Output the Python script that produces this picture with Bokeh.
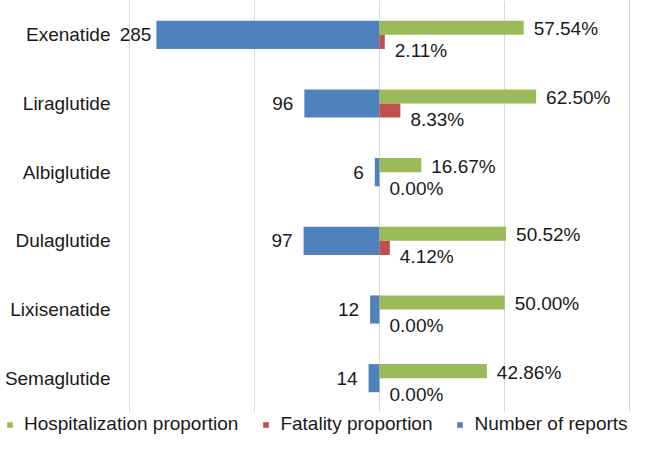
from bokeh.plotting import figure
from bokeh.layouts import column
from bokeh.models import ColumnDataSource, FactorRange, Range1d, FixedTicker, Legend, LegendItem
from bokeh.transform import dodge
from bokeh.core.properties import value
from bokeh.embed import file_html
from bokeh.resources import INLINE

drugs = ["Exenatide", "Liraglutide", "Albiglutide", "Dulaglutide", "Lixisenatide", "Semaglutide"]
reports = [285, 96, 6, 97, 12, 14]
hosp_pct = [57.54, 62.50, 16.67, 50.52, 50.00, 42.86]
fatal_pct = [2.11, 8.33, 0.00, 4.12, 0.00, 0.00]
legend_labels = ["Hospitalization proportion", "Fatality proportion", "Number of reports"]

REPORT_AXIS_MAX = 320.0  # left half of axis spans 0..320 reports, right half 0..100%

FONT = "Liberation Sans"
FS = "19px"
TXT = "#1a1a1a"
BLUE = "#4F81BD"
GREEN = "#9BBB59"
RED = "#C0504D"

src = ColumnDataSource(dict(
    drug=drugs,
    rep_x=[-r / REPORT_AXIS_MAX for r in reports],
    hosp_x=[h / 100.0 for h in hosp_pct],
    fatal_x=[f / 100.0 for f in fatal_pct],
    rep_lbl=[str(r) for r in reports],
    hosp_lbl=["%.2f%%" % h for h in hosp_pct],
    fatal_lbl=["%.2f%%" % f for f in fatal_pct],
    rep_off=[-5 if r > 250 else -11 for r in reports],
))

p = figure(width=631, height=412, output_backend="svg", toolbar_location=None,
           y_range=FactorRange(factors=list(reversed(drugs)), range_padding=0),
           x_range=Range1d(-1.054, 1.002),
           min_border_left=115, min_border_right=1, min_border_top=0, min_border_bottom=0)
p.frame_align = False
p.outline_line_color = None
p.background_fill_color = "white"
p.border_fill_color = "white"

p.xaxis.visible = False
p.xgrid.ticker = FixedTicker(ticks=[-1.0, -0.5, 0.0, 0.5, 1.0])
p.xgrid.grid_line_color = "#d9d9d9"
p.xgrid.grid_line_width = 1
p.ygrid.grid_line_color = None

p.yaxis.axis_line_color = None
p.yaxis.major_tick_line_color = None
p.yaxis.major_tick_in = 0
p.yaxis.major_tick_out = 0
p.yaxis.major_label_standoff = 5
p.yaxis.major_label_text_font = FONT
p.yaxis.major_label_text_font_size = FS
p.yaxis.major_label_text_color = TXT

p.hbar(y="drug", left="rep_x", right=0, height=0.41, source=src,
       fill_color=BLUE, line_color=None)
p.hbar(y=dodge("drug", 0.1025, range=p.y_range), left=0, right="hosp_x", height=0.205,
       source=src, fill_color=GREEN, line_color=None)
p.hbar(y=dodge("drug", -0.1025, range=p.y_range), left=0, right="fatal_x", height=0.205,
       source=src, fill_color=RED, line_color=None)

p.text(x="rep_x", y="drug", text="rep_lbl", source=src, x_offset="rep_off",
       text_align="right", text_baseline="middle", text_font=value(FONT),
       text_font_size=FS, text_color=TXT)
p.text(x="hosp_x", y=dodge("drug", 0.1025, range=p.y_range), text="hosp_lbl", source=src,
       x_offset=10, y_offset=1, text_align="left", text_baseline="middle",
       text_font=value(FONT), text_font_size=FS, text_color=TXT)
p.text(x="fatal_x", y=dodge("drug", -0.1025, range=p.y_range), text="fatal_lbl", source=src,
       x_offset=10, y_offset=9, text_align="left", text_baseline="middle",
       text_font=value(FONT), text_font_size=FS, text_color=TXT)

# legend strip
pl = figure(width=631, height=25, output_backend="svg", toolbar_location=None,
            x_range=Range1d(0, 1), y_range=Range1d(0, 1),
            x_axis_location=None, y_axis_location=None,
            min_border_left=0, min_border_right=0, min_border_top=0, min_border_bottom=0)
pl.frame_align = False
pl.outline_line_color = None
pl.grid.visible = False
lg_rs = []
for col in [GREEN, RED, BLUE]:
    lg_rs.append(pl.hbar(y=[-5], left=[0], right=[0.1], height=0.5,
                         fill_color=col, line_color=None))
legend = Legend(items=[LegendItem(label=lab, renderers=[r]) for lab, r in zip(legend_labels, lg_rs)],
                orientation="horizontal", location=(6, 2))
legend.glyph_width = 7
legend.glyph_height = 7
legend.label_standoff = 11
legend.spacing = 24
legend.padding = 0
legend.margin = 0
legend.label_height = 20
legend.border_line_color = None
legend.background_fill_alpha = 0
legend.label_text_font = FONT
legend.label_text_font_size = FS
legend.label_text_color = TXT
pl.add_layout(legend, "center")

layout = column(p, pl, spacing=0)
open("out.html", "w").write(file_html(layout, INLINE))
